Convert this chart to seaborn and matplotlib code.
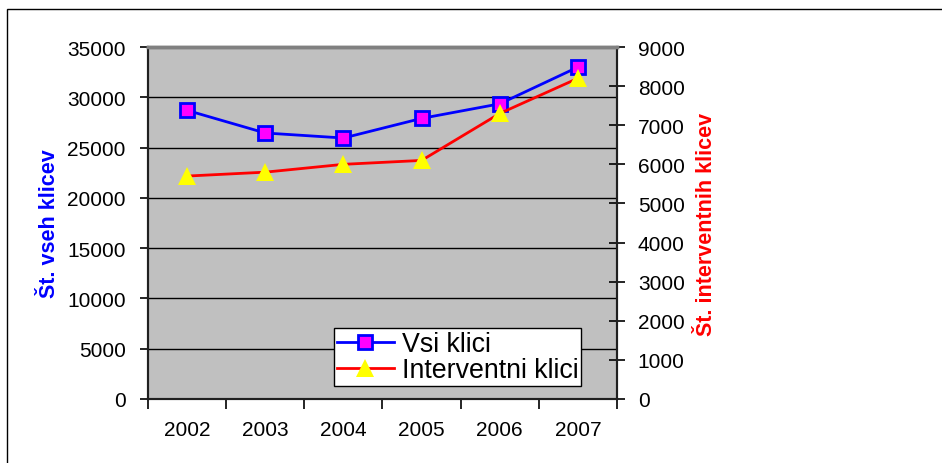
import matplotlib
matplotlib.use('Agg')

import numpy as np
import pandas as pd
import matplotlib.pyplot as plt
import seaborn as sns
from matplotlib.patches import Rectangle
from matplotlib.ticker import MultipleLocator, FixedLocator

# data
years = ['2002', '2003', '2004', '2005', '2006', '2007']
vsi_klici = [28700, 26450, 25950, 27900, 29350, 33000]
interventni_klici = [5700, 5800, 6000, 6100, 7300, 8200]

df = pd.DataFrame({'leto': years, 'vsi': vsi_klici, 'interventni': interventni_klici})

plt.rcParams['font.family'] = ['Liberation Sans', 'DejaVu Sans']

fig = plt.figure(figsize=(9.42, 4.64), dpi=100)
fig.patch.set_facecolor('white')

# outer chart frame (cut off at right and bottom like the original)
fig.patches.append(Rectangle((7 / 942, -0.1), 2, 1 - 10 / 464 + 0.1,
                             transform=fig.transFigure, fill=False,
                             edgecolor='black', linewidth=1))

ax = fig.add_axes([148 / 942, 64 / 464, 469 / 942, 352 / 464])
ax.set_facecolor('#C0C0C0')

# left series
sns.lineplot(data=df, x='leto', y='vsi', ax=ax, sort=False, color='#0000FF',
             linewidth=2, marker='s', markersize=10, markerfacecolor='#FF00FF',
             markeredgecolor='#0000FF', markeredgewidth=2, label='Vsi klici',
             zorder=5)

ax2 = ax.twinx()
sns.lineplot(data=df, x='leto', y='interventni', ax=ax2, sort=False, color='#FF0000',
             linewidth=2, marker='^', markersize=13, markerfacecolor='#FFFF00',
             markeredgecolor='#FFFF00', markeredgewidth=0, label='Interventni klici',
             zorder=5)

ax.set_xlim(-0.5, 5.5)
ax.set_ylim(0, 35000)
ax2.set_ylim(0, 9000)
ax.yaxis.set_major_locator(MultipleLocator(5000))
ax2.yaxis.set_major_locator(MultipleLocator(1000))

# grid on the left scale
ax.grid(False)
ax2.grid(False)
for v in np.arange(5000, 35000, 5000):
    ax.axhline(v, color='black', linewidth=1, zorder=1)

# x ticks at category boundaries, labels in the middle
ax.xaxis.set_minor_locator(FixedLocator(np.arange(-0.5, 6, 1)))
ax.tick_params(axis='x', which='major', length=0, pad=15, labelsize=15)
ax.tick_params(axis='x', which='minor', length=7, width=1.2, direction='out')
ax.tick_params(axis='y', length=6, width=1.2, direction='out', pad=10, labelsize=15)
ax2.tick_params(axis='y', length=12, width=1.2, direction='inout', pad=9, labelsize=15)

ax.set_xlabel('')
ax.set_ylabel('Št. vseh klicev', color='#0000FF', fontsize=15.5, fontweight='bold', labelpad=5)
ax2.set_ylabel('Št. interventnih klicev', color='#FF0000', fontsize=15.5, fontweight='bold', labelpad=8)

for a in (ax, ax2):
    for side in ('left', 'right', 'bottom'):
        a.spines[side].set_color('#202020')
        a.spines[side].set_linewidth(1.5)
    a.spines['top'].set_color('#808080')
    a.spines['top'].set_linewidth(2.5)

# combined legend
h1, l1 = ax.get_legend_handles_labels()
h2, l2 = ax2.get_legend_handles_labels()
if ax.get_legend():
    ax.get_legend().remove()
if ax2.get_legend():
    ax2.get_legend().remove()
leg = ax2.legend(h1 + h2, l1 + l2, loc='upper left',
                 bbox_to_anchor=(334 / 942, 1 - 329 / 464), bbox_transform=fig.transFigure,
                 fontsize=19.3, frameon=True, fancybox=False, framealpha=1,
                 edgecolor='black', borderpad=0.12, labelspacing=0.0,
                 handlelength=2.1, handletextpad=0.3, borderaxespad=0)
leg.get_frame().set_linewidth(1)

fig.savefig('out.png', dpi=100)
